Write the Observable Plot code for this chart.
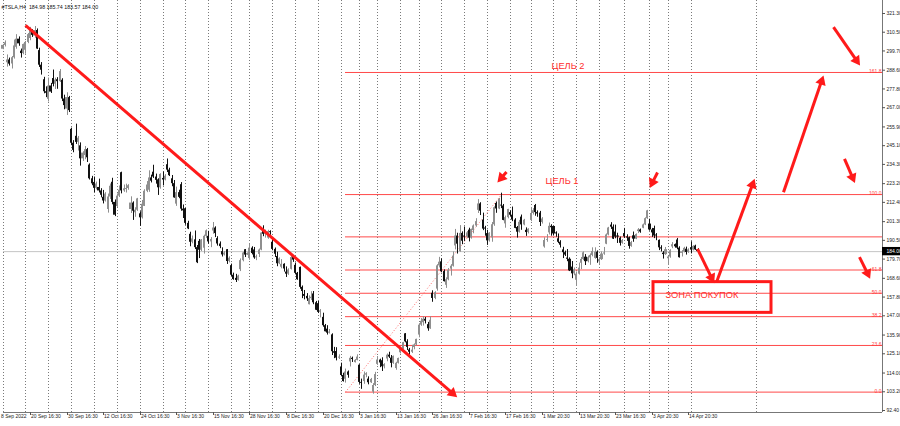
<!DOCTYPE html>
<html><head><meta charset="utf-8">
<script src="https://cdn.jsdelivr.net/npm/d3@7"></script>
<script src="https://cdn.jsdelivr.net/npm/@observablehq/plot@0.6"></script>
<style>
html,body{margin:0;padding:0;background:#fff;overflow:hidden}
#chart svg{display:block}
</style></head><body><div id="chart"></div>
<script>
// H4 candles [open, high, low, close], two bars per trading day (a few extra bars)
const sep22 = [
[300.7,303.5,300.4,302.9],[302.9,305.5,302.0,304.4],[292.9,297.4,290.4,294.5],[294.5,295.6,291.0,292.1],
[292.2,296.5,289.3,295.8],[295.8,306.0,295.0,302.6],[301.8,309.1,300.7,306.5],[306.5,307.8,302.4,303.8],
[299.6,300.8,295.6,298.2],[298.2,303.7,297.5,303.4],[300.1,305.2,297.8,304.6],[304.6,309.8,303.9,309.1],
[306.9,313.3,305.6,311.4],[311.4,312.0,307.5,308.7],[308.3,313.8,307.0,311.5],[311.5,312.4,300.6,300.8],
[299.9,301.3,290.2,291.5],[291.5,293.0,285.8,288.6],[283.1,284.5,275.0,276.2],[276.2,279.0,272.8,275.3],
[271.8,284.1,270.3,279.5],[279.5,281.0,275.2,276.0],[283.8,288.7,279.0,280.5],[280.5,284.0,277.5,282.9],
[283.1,284.3,277.6,282.0],[282.0,289.0,281.5,287.8],[282.8,283.7,270.5,272.0],[272.0,274.2,265.8,268.2],
[266.2,275.6,262.5,272.8],[272.8,273.5,264.2,265.3]];
const oct22 = [
[254.5,255.2,245.1,246.5],[246.5,248.0,241.0,242.4],[250.5,257.5,245.8,247.0],[247.0,250.4,242.0,249.4],
[245.0,246.7,233.3,237.5],[237.5,241.6,236.0,240.8],[239.4,244.6,237.0,242.8],[242.8,243.5,235.4,238.1],
[233.9,234.6,225.3,226.0],[226.0,227.4,222.0,223.1],[223.9,227.0,218.0,220.5],[220.5,224.1,219.6,223.0],
[221.0,225.8,217.8,219.0],[219.0,220.3,215.0,216.5],[215.3,219.3,211.5,213.2],[213.2,218.0,212.6,217.2],
[208.3,217.2,206.2,215.5],[215.5,223.0,214.1,221.7],[224.0,226.3,211.0,212.4],[212.4,213.8,204.2,205.0],
[210.0,217.3,209.5,216.0],[216.0,221.9,215.2,219.4],[229.5,229.8,217.3,219.0],[219.0,222.4,218.2,220.2],
[219.8,222.9,217.8,220.4],[220.4,222.6,219.4,222.0],[208.3,215.6,206.0,212.0],[212.0,212.7,202.0,207.3],
[206.4,209.3,203.8,207.9],[207.9,214.7,207.2,214.4],[205.8,207.0,198.6,203.5],[203.5,213.5,202.8,211.3],
[210.1,219.7,210.0,218.8],[218.8,224.4,218.0,222.4],[219.4,230.6,218.2,226.5],[226.5,228.1,223.6,224.6],
[229.8,233.8,226.2,227.0],[227.0,228.7,222.9,225.1],[225.4,226.0,216.4,220.8],[220.8,228.9,220.0,228.5],
[226.2,229.9,221.9,225.3],[225.3,228.4,224.8,227.5]];
const nov22 = [
[234.1,237.4,229.6,231.0],[231.0,232.1,227.3,227.8],[226.0,227.9,221.4,223.2],[223.2,225.0,214.8,215.0],
[211.4,221.2,210.1,218.0],[218.0,219.4,214.5,215.3],[222.6,223.8,207.3,208.5],[208.5,210.9,203.1,207.5],
[208.7,208.9,199.2,200.3],[200.3,201.5,196.7,197.1],[194.0,195.2,186.8,189.4],[189.4,193.0,188.5,191.3],
[190.8,195.9,185.2,186.3],[186.3,187.5,177.1,177.6],[189.9,191.0,180.0,184.8],[184.8,190.9,184.1,190.7],
[186.0,193.5,182.6,192.8],[192.8,196.5,191.6,196.0],[192.8,195.7,188.3,189.6],[189.6,192.1,186.3,191.0],
[195.9,200.8,194.0,197.6],[197.6,198.3,192.1,194.4],[191.5,192.6,187.2,188.4],[188.4,189.6,185.7,186.9],
[184.0,186.2,180.9,182.1],[182.1,184.0,181.5,183.2],[185.1,185.2,176.6,178.3],[178.3,181.0,177.5,180.2],
[175.9,176.8,169.6,170.4],[170.4,171.6,167.5,167.9],[168.6,170.9,166.2,167.4],[167.4,170.4,167.0,169.9],
[173.6,179.8,172.5,178.8],[178.8,183.6,178.1,183.2],[185.1,185.2,180.6,182.0],[182.0,183.3,181.8,182.9],
[180.0,188.5,179.0,186.0],[186.0,186.8,182.1,182.9],[185.0,186.4,179.6,180.4],[180.4,182.0,178.8,180.8],
[182.4,185.5,180.6,184.9],[184.9,194.8,184.5,194.7]];
const dec22 = [
[197.1,198.9,192.6,194.0],[194.0,196.4,191.8,194.7],[191.8,196.3,191.1,195.5],[195.5,196.0,193.4,194.9],
[189.4,191.3,184.5,185.3],[185.3,186.1,180.6,182.5],[181.2,183.7,175.3,177.0],[177.0,180.4,176.5,179.8],
[175.0,179.4,174.1,176.7],[176.7,177.0,172.2,174.0],[172.2,175.2,169.1,171.0],[171.0,174.1,170.3,173.4],
[173.8,182.5,173.4,180.6],[180.6,181.4,177.8,179.1],[176.1,177.4,170.6,171.5],[171.5,172.0,167.5,167.8],
[174.9,175.1,162.3,163.4],[163.4,164.2,156.9,161.0],[159.3,161.6,156.2,158.2],[158.2,159.8,155.3,156.8],
[153.4,158.5,153.3,156.9],[156.9,160.9,155.8,157.7],[159.6,161.0,153.4,154.5],[154.5,155.3,150.0,150.2],
[154.0,155.3,148.3,149.0],[149.0,150.6,145.8,149.9],[146.1,148.5,140.4,141.3],[141.3,142.0,137.7,137.8],
[139.3,141.3,135.9,137.0],[137.0,139.1,136.5,137.6],[136.0,136.6,124.1,126.3],[126.3,128.8,122.3,125.4],
[126.4,128.6,121.0,122.6],[122.6,124.5,121.8,123.2],[117.5,119.7,111.8,112.6],[112.6,113.9,108.8,109.1],
[110.4,116.3,108.2,114.6],[114.6,115.2,111.0,112.7],[120.4,123.6,117.5,122.5],[122.5,123.2,120.1,121.8],
[120.0,121.8,119.8,121.3],[121.3,124.5,121.0,123.2]];
const jan23 = [
[118.5,118.8,107.5,108.6],[108.6,110.5,104.6,108.1],[109.1,114.6,107.5,112.8],[112.8,114.2,111.3,113.6],
[110.5,111.8,107.2,108.4],[108.4,110.9,108.0,110.3],[103.0,107.9,101.8,106.8],[106.8,114.4,106.2,113.1],
[119.0,123.5,118.4,121.5],[121.5,122.0,117.1,119.8],[121.1,122.8,114.9,117.6],[117.6,119.4,116.4,118.9],
[122.1,125.0,120.5,124.3],[124.3,126.0,122.4,123.2],[122.6,124.1,117.0,119.6],[119.6,123.8,119.0,123.6],
[116.6,120.2,115.6,119.6],[119.6,122.6,119.2,122.4],[125.7,129.0,125.0,127.8],[127.8,131.7,127.5,131.5],
[136.6,136.7,131.4,132.0],[132.0,133.2,127.0,128.8],[127.3,128.2,124.3,126.0],[126.0,130.0,125.3,127.2],
[128.7,130.8,127.4,130.2],[130.2,133.5,129.6,133.4],[135.9,142.5,134.3,141.6],[141.6,145.4,140.9,143.8],
[143.0,146.5,141.1,145.0],[145.0,146.0,142.3,143.9],[141.9,143.2,138.1,139.5],[139.5,146.4,139.2,144.4],
[160.0,161.4,154.8,157.0],[157.0,160.9,156.3,160.3],[162.4,176.5,161.2,175.8],[175.8,180.7,174.6,177.9],
[178.1,179.8,171.8,172.5],[172.5,173.5,166.5,166.7],[164.6,168.9,162.8,167.8],[167.8,174.3,167.2,173.2]];
const feb23 = [
[173.9,176.5,169.9,175.6],[175.6,183.8,175.1,181.4],[187.3,196.8,185.0,193.0],[193.0,194.6,182.6,188.3],
[184.0,199.0,183.7,194.5],[194.5,195.4,188.0,190.0],[193.0,198.2,189.9,192.4],[192.4,195.6,191.6,194.8],
[196.4,197.5,189.6,191.8],[191.8,197.0,191.2,196.8],[196.1,199.4,194.3,198.8],[198.8,203.0,198.1,201.3],
[207.8,214.0,206.0,211.5],[211.5,212.2,204.8,207.3],[202.2,206.2,196.1,197.0],[197.0,198.6,192.9,196.9],
[194.4,196.3,187.6,190.2],[190.2,194.9,189.5,194.6],[191.9,200.8,189.4,199.5],[199.5,209.8,198.6,209.3],
[211.8,212.6,206.1,208.6],[208.6,214.7,208.2,214.2],[210.8,217.7,208.8,210.3],[210.3,211.2,201.8,202.0],
[200.0,204.5,197.5,203.6],[203.6,208.4,202.9,208.3],[206.5,207.5,204.2,205.0],
[205.0,209.7,201.3,202.2],[202.2,203.0,197.2,197.4],[197.9,198.5,191.8,195.2],[195.2,202.0,194.7,200.9],
[203.9,205.1,196.3,199.4],[199.4,202.6,198.9,202.1],[196.3,197.7,192.8,195.0],[195.0,197.2,194.2,196.9],
[202.0,209.4,201.3,206.0],[206.0,208.8,205.1,207.6],[210.6,211.2,204.4,206.5],[206.5,207.5,203.8,205.7]];
const mar23 = [
[206.2,207.2,198.5,200.8],[200.8,203.6,199.9,202.8],[186.7,192.0,186.0,190.4],[190.4,193.8,189.4,190.9],
[194.8,200.5,193.6,198.6],[198.6,199.5,192.9,197.8],[198.5,198.6,193.0,194.2],[194.2,195.4,192.3,193.8],
[191.4,194.2,188.6,189.4],[189.4,190.3,186.1,187.7],[185.0,186.5,180.0,183.4],[183.4,184.3,181.2,182.0],
[180.3,185.2,178.2,179.6],[179.6,180.4,172.5,172.9],[175.1,178.3,168.4,171.2],[171.2,174.6,170.1,173.4],
[167.5,172.3,163.9,171.0],[171.0,177.4,170.5,174.5],[177.3,180.6,173.6,179.5],[179.5,183.8,178.8,183.3],
[180.8,182.3,176.0,178.2],[178.2,181.4,177.5,180.5],[180.4,182.7,176.1,181.8],[181.8,186.2,181.0,184.1],
[180.1,186.2,179.6,183.7],[183.7,184.4,177.3,180.1],
[178.1,180.5,176.4,179.4],[179.4,183.8,178.9,182.6],[182.6,186.4,181.9,183.3],
[188.3,194.2,188.0,193.6],[193.6,198.0,193.1,197.6],[199.3,200.7,196.8,198.1],[198.1,199.4,191.0,191.2],
[195.3,199.3,191.4,192.4],[192.4,194.6,188.7,192.2],[191.7,192.4,187.2,188.8],[188.8,191.0,188.3,190.4],
[194.4,197.4,191.6,192.5],[192.5,193.7,189.9,191.8],[192.0,192.4,185.4,187.0],[187.0,189.9,186.5,189.2],
[193.1,195.3,189.4,191.2],[191.2,194.2,190.9,193.9],[195.6,197.3,194.4,196.5],[196.5,197.0,194.6,195.3],
[197.5,199.9,197.2,199.4],[199.4,203.5,199.0,203.0],[203.0,207.8,202.6,207.5]];
const apr23 = [
[199.9,202.7,195.8,196.5],[196.5,197.4,192.2,194.8],[197.3,198.7,191.5,193.0],[193.0,194.4,190.3,192.6],
[190.5,190.7,184.6,186.2],[186.2,187.4,183.8,185.5],[183.1,184.0,179.7,182.3],[182.3,186.4,181.8,185.1],
[179.9,181.4,176.1,180.9],[180.9,185.1,180.2,184.5],[186.7,189.2,185.7,188.0],[188.0,188.4,186.0,186.8],
[190.7,191.6,185.1,186.0],[186.0,186.8,180.3,180.5],[183.0,184.6,180.9,183.8],[183.8,186.5,183.3,185.9],
[185.4,186.6,182.0,183.5],[183.5,185.6,183.0,185.0],[186.3,189.7,182.7,184.9],[184.9,187.4,184.4,187.0],
[187.2,187.7,184.7,185.0],[184.98,185.74,183.57,184.00]];

// time axis labels (bar index of each label) and week separators (bar index)
const xLabelBars = [-1.3, 12, 28, 44, 60, 76, 92, 108, 124, 140, 156, 172, 188, 204, 220, 236, 252, 268, 284, 300];
const xLabels = ["8 Sep 2022", "20 Sep 16:30", "30 Sep 16:30", "12 Oct 16:30", "24 Oct 16:30", "3 Nov 16:30",
  "15 Nov 16:30", "28 Nov 16:30", "8 Dec 16:30", "20 Dec 16:30", "3 Jan 16:30", "13 Jan 16:30", "26 Jan 16:30",
  "7 Feb 16:30", "17 Feb 16:30", "1 Mar 20:30", "13 Mar 20:30", "23 Mar 16:30", "3 Apr 20:30", "14 Apr 20:30"];
const weekStarts = [0, 10, 20, 30, 40, 50, 60, 70, 80, 90, 100, 108, 118, 128, 138, 148, 156, 164, 174, 182,
  192, 202, 212, 222, 231, 241, 251, 261, 272, 283, 291, 301, 329.5];

// price axis
const yTicks = [321.3, 310.5, 299.7, 288.6, 277.8, 267.0, 255.9, 245.1, 234.3, 223.2, 212.4, 201.3, 190.5,
  179.7, 168.6, 157.8, 147.0, 135.9, 125.1, 114.0, 103.2, 92.4];
const lastPrice = 184.00;
const header = "#TSLA,H4  184.98 185.74 183.57 184.00";

// Fibonacci grid
const fibPrices = [103.0, 129.9, 146.5, 160.0, 173.4, 192.5, 216.9, 287.3];
const fibLabels = ["0.0", "23.6", "38.2", "50.0", "61.8", "", "100.0", "161.8"];
const fibStartBar = 150, fibEndBar = 218;

// drawn annotations (bar index, price)
const arrowX1 = [9.84, 220.3, 286.1, 303.9, 312.1, 341.3, 363.2, 368.1, 374.8];
const arrowY1 = [314.4, 229.9, 229.6, 185.6, 166.4, 218.3, 313.4, 237.5, 180.8];
const arrowX2 = [198.7, 216.3, 282.8, 311.2, 328.7, 359.1, 374.8, 372.6, 379.2];
const arrowY2 = [100.1, 223.9, 220.7, 165.8, 226.0, 285.6, 291.3, 223.5, 168.3];
const noteTexts = ["ЦЕЛЬ 2", "ЦЕЛЬ 1", "ЗОНА ПОКУПОК"];
const noteX = [239.9, 237.3, 289.8];
const noteY = [291.3, 224.6, 159.1];
const zoneBox = {x1: 284.6, x2: 336.1, y1: 148.7, y2: 166.4};

// ---- build ----
const bars = [...sep22, ...oct22, ...nov22, ...dec22, ...jan23, ...feb23, ...mar23, ...apr23]
  .map((d, i) => ({i, open: d[0], high: d[1], low: d[2], close: d[3], up: d[3] >= d[0]}));

const xDom = [0, 384.7], xRng = [2.5, 882];
const yDom = [92.4, 321.3], yRng = [410, 13];
const X = d3.scaleLinear(xDom, xRng), Y = d3.scaleLinear(yDom, yRng);
const RED = "#ff1a1a";
const headR = 4;
const headH = Math.sqrt(Math.PI * headR * headR / (3 * Math.sqrt(3)));
const arrows = arrowX1.map((x1, k) => {
  const px1 = X(x1), py1 = Y(arrowY1[k]), px2 = X(arrowX2[k]), py2 = Y(arrowY2[k]);
  const L = Math.hypot(px2 - px1, py2 - py1), ux = (px2 - px1) / L, uy = (py2 - py1) / L;
  const cx = px2 - ux * 2 * headH, cy = py2 - uy * 2 * headH;
  return {x1, y1: arrowY1[k], lx2: X.invert(cx), ly2: Y.invert(cy),
    hx: X.invert(cx), hy: Y.invert(cy), rot: Math.atan2(ux, -uy) * 180 / Math.PI};
});
const fib = fibPrices.map((p, k) => ({p, label: fibLabels[k]}));
const labels = xLabelBars.map((b, k) => ({b, t: xLabels[k]}));
const bottomPrice = Y.invert(412);
const font = "Liberation Sans, Arial, sans-serif";

const chart = Plot.plot({
  width: 900, height: 426,
  marginTop: 0, marginRight: 18, marginBottom: 14, marginLeft: 0,
  style: {fontFamily: font, background: "#fff", overflow: "visible"},
  x: {domain: xDom, range: xRng, round: true, axis: null},
  y: {domain: yDom, range: yRng, axis: null},
  marks: [
    Plot.ruleX(weekStarts, {stroke: "#7a7a7a", strokeDasharray: "1,2", strokeWidth: 1}),
    Plot.ruleY([lastPrice], {x1: 0, x2: xDom[1], stroke: "#c4c4c4"}),
    Plot.ruleY(fib, {y: "p", x1: fibStartBar, x2: xDom[1], stroke: "#ff4a4a", strokeWidth: 1}),
    Plot.text(fib, {x: xDom[1], y: "p", text: "label", textAnchor: "end", lineAnchor: "bottom", dx: -1, dy: 0.5,
      fill: "#ff3c3c", fontSize: 5}),
    Plot.link([0], {x1: fibStartBar, y1: fibPrices[0], x2: fibEndBar, y2: fibPrices[6], stroke: "#ff6b6b",
      strokeDasharray: "1,2", strokeWidth: 1}),
    Plot.ruleX(bars, {x: "i", y1: "low", y2: "high", stroke: d => d.up ? "#8f8f8f" : "#111", strokeWidth: 1}),
    Plot.rect(bars, {x1: d => d.i - 0.45, x2: d => d.i + 0.45,
      y1: "open", y2: d => Math.abs(d.close - d.open) < 0.5 ? d.open + 0.6 : d.close,
      fill: d => d.up ? "#8f8f8f" : "#111"}),
    Plot.link(arrows, {x1: "x1", y1: "y1", x2: "lx2", y2: "ly2", stroke: RED, strokeWidth: 3}),
    Plot.dot(arrows, {x: "hx", y: "hy", symbol: "triangle", r: headR, rotate: "rot", fill: RED, stroke: "none"}),
    Plot.rect([zoneBox], {x1: "x1", x2: "x2", y1: "y1", y2: "y2", fill: "none", stroke: RED, strokeWidth: 3}),
    Plot.text(noteTexts, {x: (d, k) => noteX[k], y: (d, k) => noteY[k], text: d => d, textAnchor: "start",
      fill: "#ff2d2d", fontSize: 9.3}),
    // axes lines
    Plot.ruleX([xDom[1]], {stroke: "#777", strokeWidth: 1}),
    Plot.ruleY([bottomPrice], {x1: 0, x2: xDom[1], stroke: "#777", strokeWidth: 1}),
    Plot.ruleY(yTicks, {x1: xDom[1], x2: xDom[1] + 1.4, stroke: "#555"}),
    Plot.text(yTicks, {y: d => d, text: d => d.toFixed(2), frameAnchor: "right", textAnchor: "start", dx: 4,
      fill: "#222", fontSize: 5}),
    Plot.rect([lastPrice], {x1: xDom[1] + 0.2, x2: xDom[1] + 9, y1: d => d - 2.4, y2: d => d + 2.4, fill: "#000"}),
    Plot.text([lastPrice], {y: d => d, text: d => d.toFixed(2), frameAnchor: "right", textAnchor: "start", dx: 4,
      fill: "#fff", fontSize: 5}),
    Plot.ruleX(labels.slice(1), {x: "b", y1: bottomPrice, y2: Y.invert(415), stroke: "#555"}),
    Plot.text(labels, {x: "b", text: "t", frameAnchor: "bottom", textAnchor: "start", dy: 5.5, dx: 0.5,
      fill: "#222", fontSize: 5}),
    Plot.text([header], {frameAnchor: "top-left", textAnchor: "start", dx: 1, dy: 5, fill: "#111", fontSize: 5.3})
  ]
});
document.getElementById("chart").appendChild(chart);
</script>
</body></html>
